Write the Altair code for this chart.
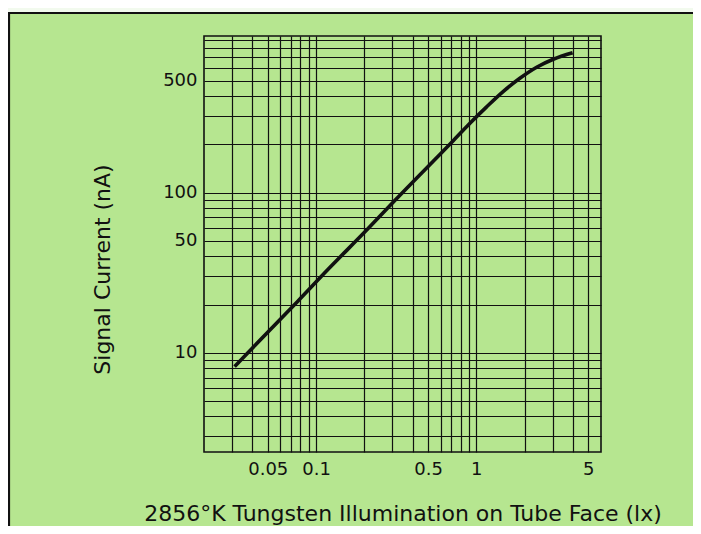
import altair as alt
import pandas as pd

# Curve
illum_lx = [0.031, 0.077, 0.119, 0.207, 0.308, 0.552, 0.718, 0.913, 1.16, 1.47, 1.87, 2.38, 3.02, 3.99]
signal_nA = [8.2, 21.0, 33.2, 58.3, 88.5, 161, 211, 271, 343, 427, 517, 606, 680, 747]

# Graph-paper grid positions and labelled ticks
x_grid = [0.03, 0.04, 0.05, 0.06, 0.07, 0.08, 0.09,
          0.1, 0.2, 0.3, 0.4, 0.5, 0.6, 0.7, 0.8, 0.9,
          1, 2, 3, 4, 5]
y_grid = [3, 4, 5, 6, 7, 8, 9,
          10, 20, 30, 40, 50, 60, 70, 80, 90,
          100, 200, 300, 400, 500, 600, 700, 800, 900]
x_labels = [0.05, 0.1, 0.5, 1, 5]
y_labels = [10, 50, 100, 500]

GREEN = "#b6e690"
INK = "#111111"

df = pd.DataFrame({"x": illum_lx, "y": signal_nA})
one = pd.DataFrame({"k": [0]})

x_expr = "indexof(" + str(x_labels) + ", datum.value) >= 0 ? format(datum.value, '~g') : ''"
y_expr = "indexof(" + str(y_labels) + ", datum.value) >= 0 ? format(datum.value, '~g') : ''"

line = alt.Chart(df).mark_line(color=INK, strokeWidth=3.6, interpolate="monotone").encode(
    x=alt.X("x:Q",
            scale=alt.Scale(type="log", domain=[0.02, 6], nice=False),
            axis=alt.Axis(values=x_grid, labelExpr=x_expr, grid=True, gridColor=INK,
                          gridWidth=1.2, gridOpacity=1, ticks=False, tickSize=0, domain=False,
                          labelFont="DejaVu Sans", labelFontSize=18, labelColor=INK,
                          labelPadding=8, labelFlush=False, labelOverlap=False,
                          title="2856°K Tungsten Illumination on Tube Face (lx)",
                          titleFont="DejaVu Sans", titleFontSize=22, titleFontWeight="normal",
                          titleColor=INK, titleY=68.5, titleBaseline="alphabetic")),
    y=alt.Y("y:Q",
            scale=alt.Scale(type="log", domain=[2.4, 950], nice=False),
            axis=alt.Axis(values=y_grid, labelExpr=y_expr, grid=True, gridColor=INK,
                          gridWidth=1.2, gridOpacity=1, ticks=False, tickSize=0, domain=False,
                          labelFont="DejaVu Sans", labelFontSize=18, labelColor=INK,
                          labelPadding=7, labelFlush=False, labelOverlap=False,
                          title="Signal Current (nA)",
                          titleFont="DejaVu Sans", titleFontSize=22, titleFontWeight="normal",
                          titleColor=INK, titleAngle=270, titleX=-102, titleY=233,
                          titleAlign="center", titleBaseline="middle")),
)

top_strip = alt.Chart(one).mark_rect(color="#f2faee").encode(
    x=alt.value(-200), x2=alt.value(600), y=alt.value(-30), y2=alt.value(-23.5)
)
left_rule = alt.Chart(one).mark_rule(color=INK, strokeWidth=2.2).encode(
    x=alt.value(-195), y=alt.value(-24), y2=alt.value(600)
)
top_rule = alt.Chart(one).mark_rule(color=INK, strokeWidth=2.2).encode(
    x=alt.value(-196), x2=alt.value(600), y=alt.value(-23)
)

chart = alt.layer(top_strip, left_rule, top_rule, line).properties(
    width=397, height=416,
    autosize="none",
    padding={"left": 196, "top": 28, "right": 92, "bottom": 74},
    background=GREEN,
).configure_view(stroke=INK, strokeWidth=1.6)

chart.save("out.html", embed_options={"renderer": "svg", "actions": False})
